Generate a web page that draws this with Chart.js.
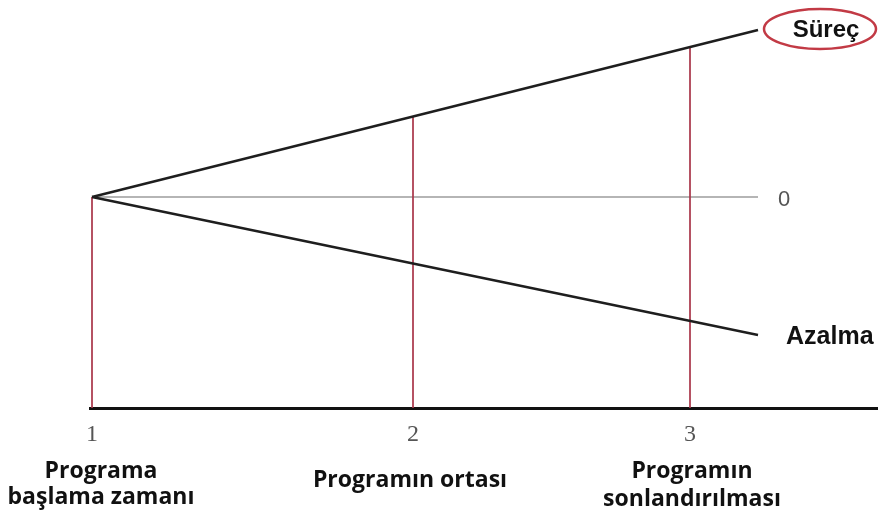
<!DOCTYPE html>
<html>
<head>
<meta charset="utf-8">
<script src="https://cdn.jsdelivr.net/npm/chart.js@4.4.1/dist/chart.umd.min.js"></script>
<style>
  html, body { margin: 0; background: #fff; }
  #wrap { width: 885px; height: 524px; }
</style>
</head>
<body>
<div id="wrap"><canvas id="c"></canvas></div>
<script>
// program zaman ekseni (keyfi birim)
const tickPos = [0, 32.1, 59.8];
const tickLabels = ['1', '2', '3'];
const bottomLabels = [['Programa', 'başlama zamanı'], ['Programın ortası'], ['Programın', 'sonlandırılması']];

// çizgiler
const lineX = [0, 66.6];
const surecY = [0, 16.7];
const azalmaY = [0, -13.8];
const zeroY = [0, 0];
const guideTops = [0, 8.0, 15.0];
const axisBottom = -21.1;
const axisTop = 18.7;

const pts = (xs, ys) => xs.map((x, i) => ({ x: x, y: ys[i] }));

const guides = tickPos.map((x, i) => ({
    data: [{ x: x, y: guideTops[i] }, { x: x, y: axisBottom }],
    borderColor: 'rgba(168, 52, 72, 0.85)',
    borderWidth: 2,
    order: 2
}));

// yazılar
const textPlugin = {
    id: 'texts',
    afterDraw(chart) {
        const ctx = chart.ctx;
        const xs = chart.scales.x, ys = chart.scales.y;
        ctx.save();
        ctx.textBaseline = 'middle';

        // Süreç + elips
        const ex = xs.getPixelForValue(lineX[1]) + 62;
        const ey = ys.getPixelForValue(surecY[1]) - 1;
        ctx.beginPath();
        ctx.ellipse(ex, ey, 56, 20, 0, 0, Math.PI * 2);
        ctx.strokeStyle = '#c23a45';
        ctx.lineWidth = 2.5;
        ctx.stroke();
        ctx.fillStyle = '#111';
        ctx.font = 'bold 24px "Liberation Sans", Arial, sans-serif';
        ctx.textAlign = 'center';
        ctx.fillText('Süreç', ex + 6, ey + 1);

        // 0
        ctx.fillStyle = '#555';
        ctx.font = '22px "Liberation Sans", Arial, sans-serif';
        ctx.textAlign = 'left';
        ctx.fillText('0', xs.getPixelForValue(lineX[1]) + 20, ys.getPixelForValue(zeroY[1]) + 3);

        // Azalma
        ctx.fillStyle = '#111';
        ctx.font = 'bold 25px "Liberation Sans", Arial, sans-serif';
        ctx.fillText('Azalma', xs.getPixelForValue(lineX[1]) + 28, ys.getPixelForValue(azalmaY[1]) + 2);

        // alt etiketler
        ctx.font = 'bold 23px "Open Sans", sans-serif';
        ctx.textAlign = 'center';
        const dx = [9, -3, 2];
        const y0 = [471, 480, 471];
        const gap = [26, 0, 28];
        bottomLabels.forEach((lines, i) => {
            const cx = xs.getPixelForValue(tickPos[i]) + dx[i];
            lines.forEach((t, j) => ctx.fillText(t, cx, y0[i] + j * gap[i]));
        });
        ctx.restore();
    }
};

new Chart(document.getElementById('c'), {
    type: 'scatter',
    data: {
        datasets: [
            { data: pts(lineX, surecY), borderColor: '#1e1e1e', borderWidth: 2.5, order: 0 },
            { data: pts(lineX, azalmaY), borderColor: '#1e1e1e', borderWidth: 2.5, order: 0 },
            { data: pts(lineX, zeroY), borderColor: '#b5b5b5', borderWidth: 2, order: 3 },
            ...guides
        ].map(d => Object.assign({ showLine: true, pointRadius: 0, fill: false }, d))
    },
    options: {
        responsive: true,
        maintainAspectRatio: false,
        devicePixelRatio: 1,
        animation: false,
        layout: { padding: { left: 90, right: 8, top: 10, bottom: 0 } },
        plugins: { legend: { display: false }, tooltip: { enabled: false } },
        scales: {
            x: {
                type: 'linear',
                min: -0.2,
                max: 78.5,
                afterBuildTicks: s => { s.ticks = tickPos.map(v => ({ value: v })); },
                afterFit: s => { s.height = 116; },
                grid: { display: false, drawTicks: false },
                border: { display: true, color: '#111', width: 3 },
                ticks: {
                    autoSkip: false,
                    maxRotation: 0,
                    padding: 12,
                    color: '#555',
                    font: { family: '"Liberation Serif", serif', size: 24 },
                    callback: (v, i) => tickLabels[i]
                }
            },
            y: { display: false, min: axisBottom, max: axisTop }
        }
    },
    plugins: [textPlugin]
});
</script>
</body>
</html>
